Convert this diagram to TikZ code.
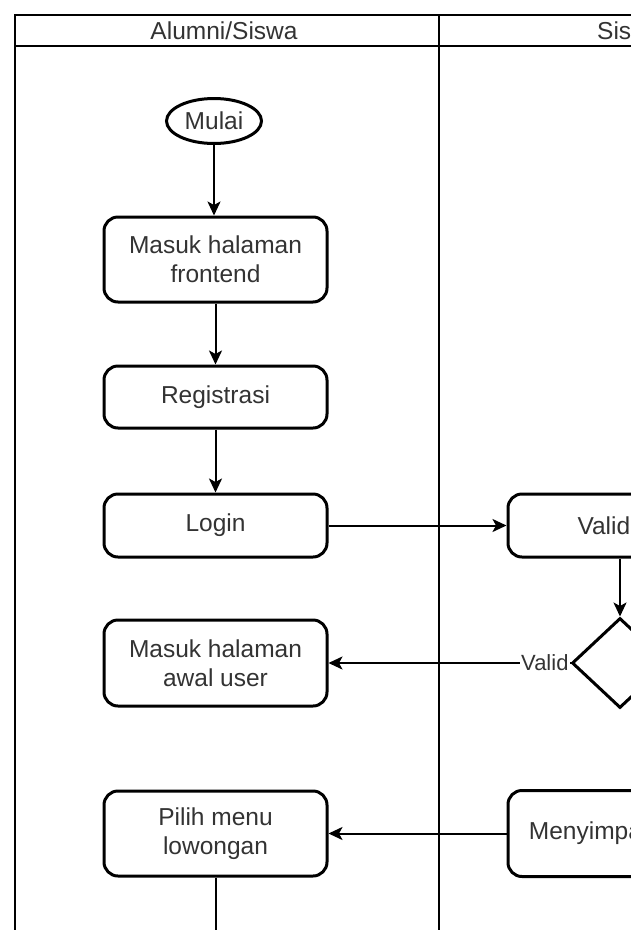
\documentclass[tikz,border=0pt]{standalone}
\usepackage{fontspec}
\setmainfont{Liberation Sans}
\usetikzlibrary{arrows.meta,shapes.geometric}
\definecolor{txt}{HTML}{333333}
\tikzset{
  every node/.style={text=txt},
  proc/.style={draw=black, line width=3pt, rounded corners=14pt, minimum width=223pt, align=center, font=\fontsize{24.5}{29}\selectfont, inner sep=2pt},
  startnode/.style={draw=black, line width=3pt, ellipse, minimum width=95pt, minimum height=45pt, inner sep=0pt, font=\fontsize{24.5}{29}\selectfont},
  decision/.style={draw=black, line width=3pt, diamond, minimum width=96pt, minimum height=90pt, inner sep=0pt},
  lane/.style={draw=black, line width=1.5pt},
  flow/.style={draw=black, line width=2pt, -{Stealth[length=14pt,width=13pt,inset=3.5pt]}},
  plain/.style={draw=black, line width=2pt},
  hdr/.style={font=\fontsize{24.5}{29}\selectfont, inner sep=0pt},
  lbl/.style={font=\fontsize{22}{26}\selectfont, fill=white, inner sep=1pt}
}
\begin{document}
\begin{tikzpicture}[x=1pt,y=-1pt]
\useasboundingbox (0,0) rectangle (631,930);
\clip (0,0) rectangle (631,930);
\fill[white] (0,0) rectangle (631,930);
% swimlane frame
\draw[lane] (15,935) -- (15,15) -- (640,15);
\draw[lane] (15,46) -- (640,46);
\draw[lane] (439,15) -- (439,935);
\node[hdr] (h1) at (224,31) {Alumni/Siswa};
\node[hdr, anchor=west] (h2) at (597,31) {Sistem};
% nodes
\node[startnode] (mulai) at (214,121) {Mulai};
\node[proc, minimum height=85pt] (front) at (215.5,259.5) {Masuk halaman\\frontend};
\node[proc, minimum height=62pt] (reg) at (215.5,397) {Registrasi};
\node[proc, minimum height=63pt] (login) at (215.5,525.5) {Login};
\node[proc, minimum height=86pt] (awal) at (215.5,663) {Masuk halaman\\awal user};
\node[proc, minimum height=85pt] (pilih) at (215.5,833.5) {Pilih menu\\lowongan};
\node[proc, minimum height=63pt] (valid) at (619.5,525.5) {Validasi};
\node[decision] (dec) at (620,663) {};
\node[proc, minimum height=86pt] (simpan) at (619.5,833.5) {Menyimpan data};
\coordinate (bot) at (215.5,935);
% connectors
\draw[flow] (mulai.south) -- (mulai.south |- front.north);
\draw[flow] (front) -- (reg);
\draw[flow] (reg) -- (login);
\draw[flow] (login) -- (valid);
\draw[flow] (valid.south -| dec.north) -- (dec.north);
\draw[flow] (dec.west) -- node[lbl, pos=0, anchor=east] {Valid} (awal.east);
\draw[flow] (simpan.west) -- (pilih.east);
\draw[plain] (pilih.south) -- (bot);
\end{tikzpicture}
\end{document}
